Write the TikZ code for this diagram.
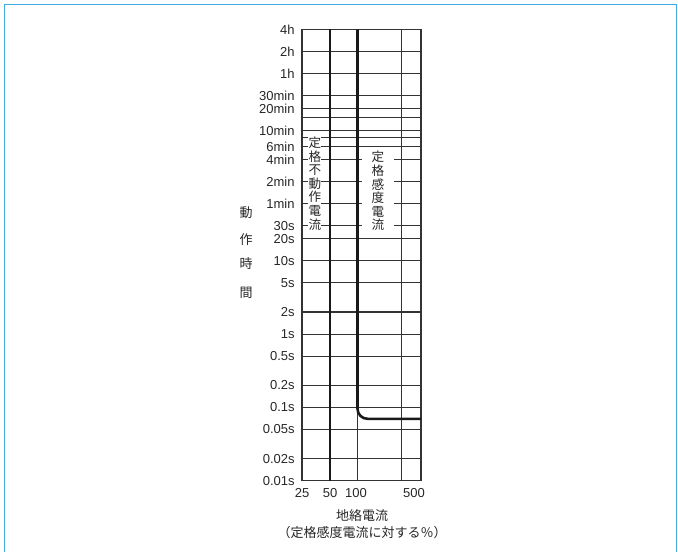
\documentclass[tikz,border=0pt]{standalone}
\usepackage{fontspec}
\setmainfont{Liberation Sans}
\newfontfamily\cjk{Noto Sans CJK JP}
\usetikzlibrary{positioning}
\definecolor{frameblue}{RGB}{60,172,226}
\tikzstyle{gridline} = [draw=black!80, line width=0.55pt]
\tikzstyle{curveline} = [draw=black!90, line width=1.3pt]
\tikzstyle{ticklabel} = [anchor=east, inner sep=1pt, text=black!85, font=\fontsize{6.5}{7}\selectfont]
\tikzstyle{xlabel} = [inner sep=1pt, text=black!85, font=\fontsize{6.5}{7}\selectfont]
\tikzstyle{vtext} = [fill=white, align=center, text width=6pt, inner xsep=0.3pt, inner ysep=1pt, text=black!85, font=\cjk\fontsize{6.3}{6.8}\selectfont]
\tikzstyle{jtext} = [inner sep=1pt, text=black!85, font=\cjk\fontsize{6.5}{7}\selectfont]

\begin{document}
\begin{tikzpicture}[x=0.5pt, y=-0.5pt]
			\useasboundingbox (0,0) rectangle (678,551);
			\draw[frameblue, line width=0.8pt] (4.3,560) -- (4.3,4.7) -- (676.6,4.7) -- (676.6,560);
			% horizontal grid
			\foreach \yy in {29.3,51.4,73.4,95.5,108.4,117.6,130.5,137.6,146.7,159.6,181.7,203.8,225.8,238.7,260.8,282.9,312,334.1,356.2,385.3,407.4,429.5,458.6,480.7}
				\draw[gridline] (302,\yy) -- (421,\yy);
			% vertical grid
			\foreach \xx in {302,357.5,401.5,421}
				\draw[gridline] (\xx,29.3) -- (\xx,480.7);
			\draw[curveline] (330,29.3) -- (330,480.7);
			\draw[curveline, rounded corners=5pt] (357.5,29.3) -- (357.5,418.8) -- (421,418.8);
			% time labels
			\foreach \yy/\lab in {29.3/4h,51.4/2h,73.4/1h,95.5/30min,108.4/20min,130.5/10min,146.7/6min,159.6/4min,181.7/2min,203.8/1min,225.8/30s,238.7/20s,260.8/10s,282.9/5s,312/2s,334.1/1s,356.2/0.5s,385.3/0.2s,407.4/0.1s,429.5/0.05s,458.6/0.02s,480.7/0.01s}
				\node[ticklabel] at (297,\yy) {\lab};
			% current labels
			\node[xlabel](x25) at (302,493) {25};
			\node[xlabel](x50) at (330,493) {50};
			\node[xlabel](x100) at (356,493) {100};
			\node[xlabel](x500) at (414,493) {500};
			\node[vtext](nonop) at (314.5,183.5) {定\\格\\不\\動\\作\\電\\流};
			\node[vtext, inner xsep=5pt](sens) at (377.5,191) {定\\格\\感\\度\\電\\流};
			\node[jtext](yax1) at (246,213) {動};
			\node[jtext](yax2) at (246,240) {作};
			\node[jtext](yax3) at (246,264) {時};
			\node[jtext](yax4) at (246,293) {間};
			\node[jtext](xax) at (362,516) {地絡電流};
			\node[jtext, below=0pt of xax](xaxsub) {（定格感度電流に対する％）};
		\end{tikzpicture}
\end{document}
